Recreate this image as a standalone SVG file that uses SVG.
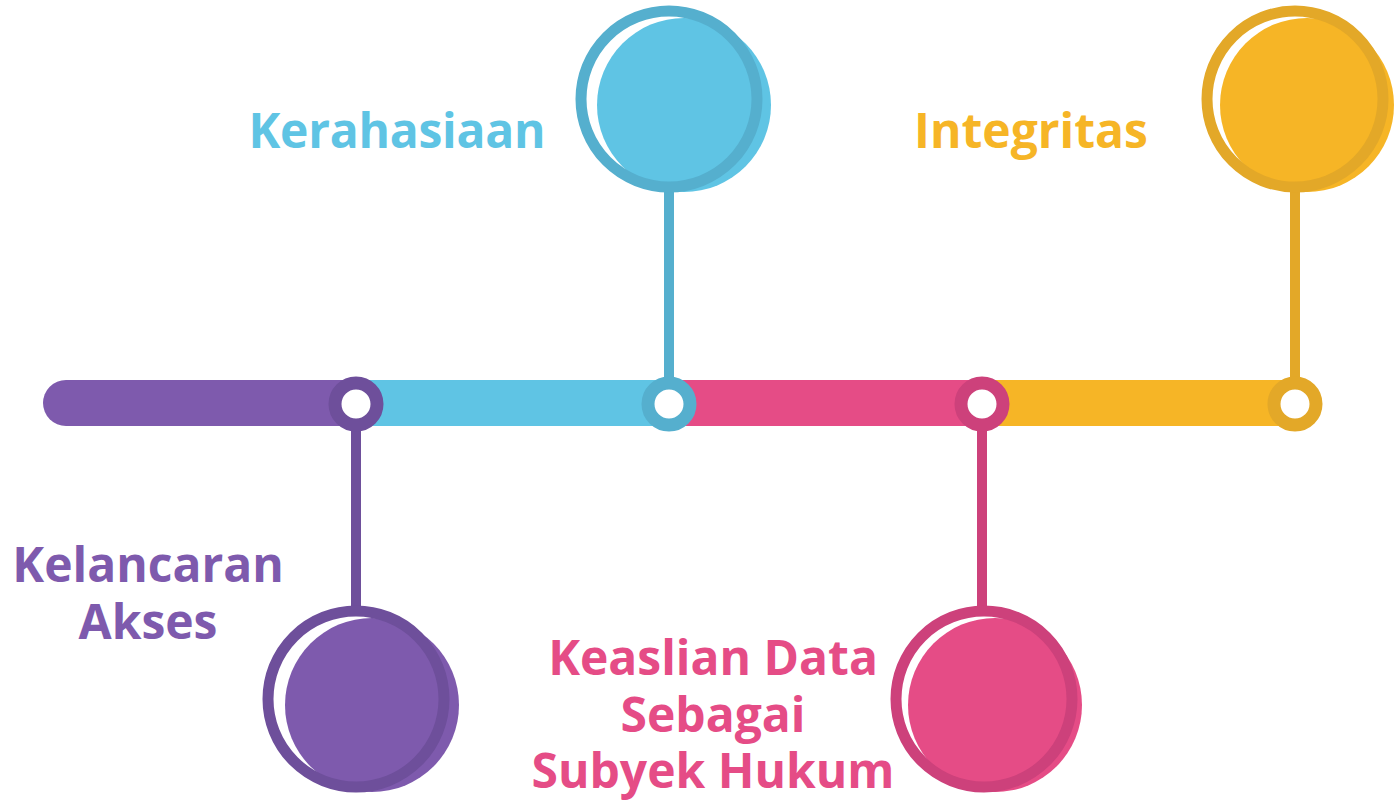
<svg xmlns="http://www.w3.org/2000/svg" width="1395" height="803" viewBox="0 0 1395 803">
<style>
.lbl{font-family:"Open Sans","Noto Sans","Liberation Sans",sans-serif;font-weight:700;font-size:48px;text-anchor:middle}
.ring{fill:none;stroke-width:11}
.joint{fill:#FFFFFF;stroke-width:13}
.stem{stroke-width:10;fill:none}
</style>
<rect width="1395" height="803" fill="#FFFFFF"/>
<g id="timeline">
<line x1="66" y1="403" x2="356" y2="403" stroke="#7E5AAD" stroke-width="46" stroke-linecap="round"/>
<rect x="356" y="380" width="313" height="46" fill="#5FC4E4"/>
<rect x="669" y="380" width="313" height="46" fill="#E54C86"/>
<rect x="982" y="380" width="313" height="46" fill="#F6B526"/>
</g>
<g id="connectors">
<line class="stem" x1="669" y1="188" x2="669" y2="403" stroke="#55AFCE"/>
<line class="stem" x1="356" y1="403" x2="356" y2="612" stroke="#6E4F9B"/>
<line class="stem" x1="982" y1="403" x2="982" y2="612" stroke="#CD417B"/>
<line class="stem" x1="1295" y1="188" x2="1295" y2="403" stroke="#E3A828"/>
</g>
<g id="node-kerahasiaan">
<circle cx="684" cy="105" r="87" fill="#5FC4E4"/>
<circle class="ring" cx="669" cy="99" r="88" stroke="#55AFCE"/>
<circle class="joint" cx="669" cy="404" r="21" stroke="#55AFCE"/>
<text class="lbl" x="397" y="148" fill="#5FC4E4" textLength="297" lengthAdjust="spacing">Kerahasiaan</text>
</g>
<g id="node-kelancaran">
<circle cx="372" cy="705" r="87" fill="#7E5AAD"/>
<circle class="ring" cx="356" cy="699" r="88" stroke="#6E4F9B"/>
<circle class="joint" cx="356" cy="404" r="21" stroke="#6E4F9B"/>
<text class="lbl" fill="#7E5AAD"><tspan x="148" y="582">Kelancaran</tspan><tspan x="148" y="639">Akses</tspan></text>
</g>
<g id="node-keaslian">
<circle cx="995" cy="705" r="87" fill="#E54C86"/>
<circle class="ring" cx="984" cy="699" r="88" stroke="#CD417B"/>
<circle class="joint" cx="982" cy="404" r="21" stroke="#CD417B"/>
<text class="lbl" fill="#E54C86"><tspan x="713" y="675">Keaslian Data</tspan><tspan x="713" y="732">Sebagai</tspan><tspan x="713" y="788">Subyek Hukum</tspan></text>
</g>
<g id="node-integritas">
<circle cx="1307" cy="105" r="87" fill="#F6B526"/>
<circle class="ring" cx="1295" cy="99" r="88" stroke="#E3A828"/>
<circle class="joint" cx="1295" cy="404" r="21" stroke="#E3A828"/>
<text class="lbl" x="1031" y="148" fill="#F6B526">Integritas</text>
</g>
</svg>
